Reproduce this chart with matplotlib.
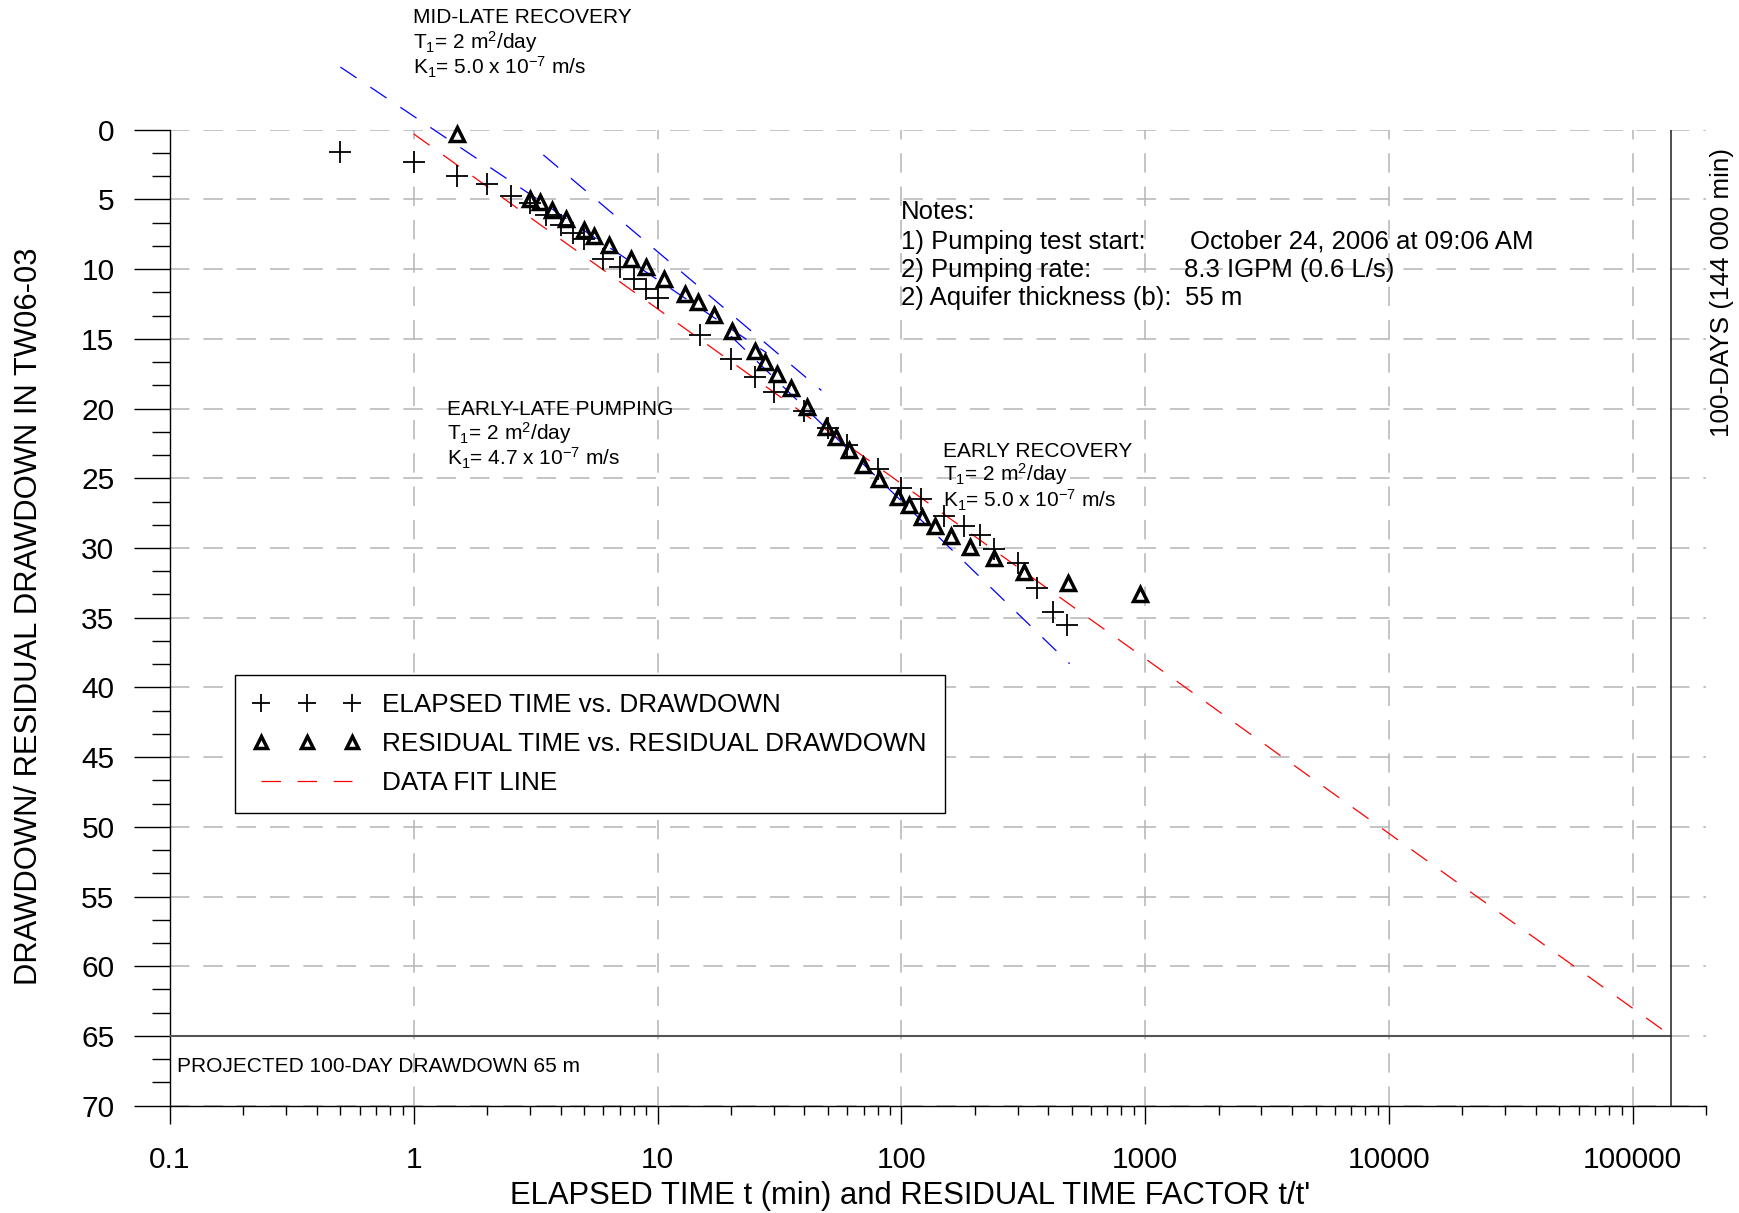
import numpy as np
import matplotlib
matplotlib.use('Agg')
import matplotlib.pyplot as plt
from matplotlib.ticker import MultipleLocator, FixedLocator, FuncFormatter, LogLocator, NullFormatter

plt.rcParams['font.family'] = ['Liberation Sans', 'DejaVu Sans']
plt.rcParams['mathtext.fontset'] = 'custom'
plt.rcParams['mathtext.rm'] = 'Liberation Sans'
plt.rcParams['mathtext.it'] = 'Liberation Sans'
plt.rcParams['mathtext.default'] = 'regular'
plt.rcParams['lines.scale_dashes'] = False

# elapsed time (min) vs drawdown (m)
elapsed_t = [0.5, 1, 1.5, 2, 2.5, 3, 3.5, 4, 4.5, 5, 6, 7, 8, 9, 10, 15, 20, 25, 30,
             40, 50, 60, 80, 100, 120, 150, 180, 210, 240, 300, 360, 420, 480]
drawdown = [1.6, 2.3, 3.3, 3.9, 4.75, 5.25, 6.1, 6.8, 7.4, 7.85, 9.3, 9.85, 10.7, 11.4, 12.05,
            14.7, 16.45, 17.7, 18.8, 20.15, 21.4, 22.6, 24.3, 25.7, 26.5, 27.7, 28.4, 29.05,
            30.1, 31.1, 32.9, 34.6, 35.5]

# residual time factor t/t' vs residual drawdown (m)
resid_t = [1.5, 3.0, 3.3, 3.7, 4.2, 5.0, 5.5, 6.3, 7.8, 9.0, 10.6, 13, 14.7, 17, 20.2, 25,
           27.7, 31, 35.2, 41, 49, 54, 61, 69.5, 81, 97, 108, 121, 138, 160, 192, 240, 318,
           481, 955]
resid_dd = [0.3, 4.95, 5.2, 5.75, 6.4, 7.2, 7.65, 8.25, 9.25, 9.85, 10.7, 11.8, 12.35, 13.25,
            14.4, 15.9, 16.65, 17.5, 18.5, 19.85, 21.3, 22.05, 23.0, 24.05, 25.05, 26.35, 26.95,
            27.75, 28.45, 29.15, 29.95, 30.7, 31.7, 32.5, 33.3]

# fit lines (end points)
fit_t = [1, 144000]
fit_dd = [0.3, 65]
midlate_t = [0.5, 28]
midlate_dd = [-4.5, 16.0]
earlylate_t = [3.4, 47]
earlylate_dd = [1.8, 18.7]
earlyrec_t = [20, 490]
earlyrec_dd = [14.8, 38.3]

proj_t = 144000
proj_dd = 65

xticks = [0.1, 1, 10, 100, 1000, 10000, 100000]

fig = plt.figure(figsize=(17.4, 12.13), dpi=100)
ax = fig.add_axes([0.0977, 0.0885, 0.8828, 0.8045])

dash = (0, (14, 12))
ax.plot(fit_t, fit_dd, color='red', lw=0.9, ls=dash, zorder=3, label='DATA FIT LINE')
for bt, bd in [(midlate_t, midlate_dd), (earlylate_t, earlylate_dd), (earlyrec_t, earlyrec_dd)]:
    ax.plot(bt, bd, color='blue', lw=0.9, ls=dash, zorder=3, clip_on=False)

ax.plot(elapsed_t, drawdown, ls='none', marker='+', ms=16, mew=1.3, color='black',
        zorder=5, label='ELAPSED TIME vs. DRAWDOWN')
ax.plot(resid_t, resid_dd, ls='none', marker='^', ms=10, mew=2.5, mfc='none', mec='black',
        zorder=6, label='RESIDUAL TIME vs. RESIDUAL DRAWDOWN', clip_on=False)

# projected 100-day drawdown
ax.plot([0.1, proj_t], [proj_dd, proj_dd], color='#555555', lw=1.5, zorder=4)
ax.plot([proj_t, proj_t], [0, 70], color='#303030', lw=1.2, zorder=4)

ax.set_xscale('log')
ax.set_xlim(0.1, 2e5)
ax.set_ylim(70, 0)
ax.xaxis.set_major_locator(FixedLocator(xticks))
ax.xaxis.set_major_formatter(FuncFormatter(lambda v, p: '%g' % v))
ax.xaxis.set_minor_locator(LogLocator(base=10, subs=np.arange(2, 10), numticks=30))
ax.xaxis.set_minor_formatter(NullFormatter())
ax.yaxis.set_major_locator(MultipleLocator(5))
ax.yaxis.set_minor_locator(MultipleLocator(5 / 3))

ax.tick_params(axis='y', which='major', direction='out', length=26, width=1, pad=14, labelsize=21.5)
ax.tick_params(axis='y', which='minor', direction='out', length=13, width=1)
ax.tick_params(axis='x', which='major', direction='out', length=13, width=1, pad=16, labelsize=21.5)
ax.tick_params(axis='x', which='minor', direction='out', length=6.7, width=1)

ax.grid(True, which='major', color='#b4b4b4', lw=1.1, ls=(0, (14, 10)))
ax.set_axisbelow(True)
for s in ['top', 'right']:
    ax.spines[s].set_visible(False)
for s in ['left', 'bottom']:
    ax.spines[s].set_linewidth(1.0)

# axis titles
fig.text(0.0165, 0.492, 'DRAWDOWN/ RESIDUAL DRAWDOWN IN TW06-03', rotation=90,
         ha='center', va='center', fontsize=22.3)
fig.text(0.523, 0.014, "ELAPSED TIME t (min) and RESIDUAL TIME FACTOR t/t'",
         ha='center', va='center', fontsize=22.3)

# interpretation labels
labels = [
    (0.2372, [0.9853, 0.9652, 0.9442],
     ['MID-LATE RECOVERY', r'T$_1$= 2 m$^2$/day', r'K$_1$= 5.0 x 10$^{-7}$ m/s']),
    (0.2571, [0.662, 0.6428, 0.6222],
     ['EARLY-LATE PUMPING', r'T$_1$= 2 m$^2$/day', r'K$_1$= 4.7 x 10$^{-7}$ m/s']),
    (0.5418, [0.6276, 0.6092, 0.5878],
     ['EARLY RECOVERY', r'T$_1$= 2 m$^2$/day', r'K$_1$= 5.0 x 10$^{-7}$ m/s']),
]
for lx, ys, lines in labels:
    for yy, txt in zip(ys, lines):
        fig.text(lx, yy, txt, ha='left', va='center', fontsize=15)

# notes
notes_left = ['Notes:', '1) Pumping test start:', '2) Pumping rate:', '2) Aquifer thickness (b):']
notes_right = ['', 'October 24, 2006 at 09:06 AM', '8.3 IGPM (0.6 L/s)', '55 m']
notes_rx = [0.6839, 0.6839, 0.6807, 0.6813]
notes_y = [0.8255, 0.8007, 0.7774, 0.7541]
for i in range(len(notes_left)):
    fig.text(0.5177, notes_y[i], notes_left[i], ha='left', va='center', fontsize=18.5)
    fig.text(notes_rx[i], notes_y[i], notes_right[i], ha='left', va='center', fontsize=18.5)

fig.text(0.1016, 0.1206, 'PROJECTED 100-DAY DRAWDOWN 65 m', ha='left', va='center', fontsize=15)
fig.text(0.9895, 0.759, '100-DAYS (144 000 min)', rotation=90, ha='center', va='center',
         fontsize=18.7)

h, l = ax.get_legend_handles_labels()
order = [1, 2, 0]
leg = fig.legend([h[i] for i in order], [l[i] for i in order], loc='upper left',
                 bbox_to_anchor=(0.1348, 0.4435), fontsize=18.85, numpoints=3,
                 handlelength=4.1, handletextpad=0.83, borderpad=0.7, labelspacing=0.56,
                 frameon=True, fancybox=False, edgecolor='black', framealpha=1,
                 borderaxespad=0, markerscale=0.85)
leg.get_frame().set_linewidth(1.0)

fig.savefig('out.png', dpi=100)
